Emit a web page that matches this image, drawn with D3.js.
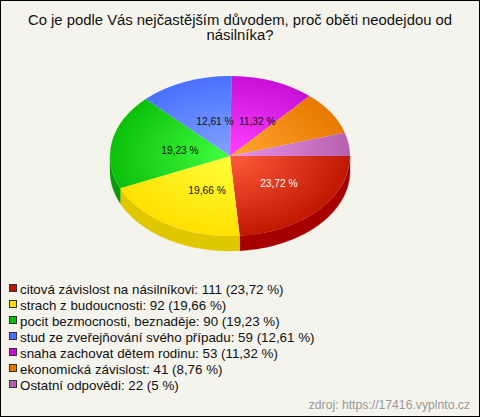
<!DOCTYPE html>
<html><head><meta charset="utf-8">
<script src="https://cdn.jsdelivr.net/npm/d3@7"></script>
<style>html,body{margin:0;padding:0;background:#f4f3ec}svg{display:block}text{font-family:"Liberation Sans",Arial,sans-serif}</style>
</head><body><svg id="c" width="480" height="417"></svg>
<script>
const categories = ["citová závislost na násilníkovi","strach z budoucnosti","pocit bezmocnosti, beznaděje","stud ze zveřejňování svého případu","snaha zachovat dětem rodinu","ekonomická závislost","Ostatní odpovědi"];
const counts = [111,92,90,59,53,41,22];
const percentLabels = ["23,72 %","19,66 %","19,23 %","12,61 %","11,32 %","8,76 %","5 %"];
const innerColors = ["#ff5c3e","#ffff3c","#40ff40","#82a4ff","#ff40ff","#ffa832","#e896e8"];
const edgeColors = ["#c01800","#ffe000","#0cc00c","#4a70ff","#c810d8","#e87800","#b860b0"];
const sideColors = ["#a80000","#e0c800","#0a9a0a","#3a58d0","#a000b0","#c06000","#905090"];
const titleLines = ["Co je podle Vás nejčastějším důvodem, proč oběti neodejdou od","násilníka?"];
const sourceText = "zdroj: https://17416.vyplnto.cz";

const W=480,H=417,cx=230,cy=156,rx=120,ry=80,depth=15;
const svg=d3.select("#c");
svg.append("rect").attr("x",.5).attr("y",.5).attr("width",W-1).attr("height",H-1).attr("fill","#f4f3ec").attr("stroke","#000");
svg.selectAll("text.t").data(titleLines).join("text").attr("class","t")
  .attr("x",240).attr("y",(d,i)=>25+i*15).attr("text-anchor","middle").attr("font-size",14.85).attr("fill","#111").text(d=>d);

const pie=d3.pie().sort(null).startAngle(Math.PI/2).endAngle(Math.PI*2.5);
const arcs=pie(counts);
const defs=svg.append("defs");
arcs.forEach((d,i)=>{
  const g=defs.append("radialGradient").attr("id","g"+i).attr("gradientUnits","userSpaceOnUse")
    .attr("cx",0).attr("cy",0).attr("r",rx);
  g.append("stop").attr("offset",0).attr("stop-color",innerColors[i]);
  g.append("stop").attr("offset",1).attr("stop-color",edgeColors[i]);
});
// side walls: d3 angle a (from north, clockwise) -> point on the ellipse
const pt=(a,dy)=>[cx+rx*Math.sin(a),cy-ry*Math.cos(a)+dy];
const line=d3.line();
arcs.forEach((d,i)=>{
  const a0=Math.max(d.startAngle,Math.PI/2), a1=Math.min(d.endAngle,Math.PI*1.5);
  if(a1<=a0) return;
  const as=d3.range(a0,a1,0.02).concat([a1]);
  const pts=as.map(a=>pt(a,0)).concat(as.slice().reverse().map(a=>pt(a,depth)));
  svg.append("path").attr("d",line(pts)+"Z").attr("fill",sideColors[i]).attr("stroke",sideColors[i]).attr("stroke-width",.3);
});
const face=svg.append("g").attr("transform",`translate(${cx},${cy}) scale(1,${ry/rx})`);
const arc=d3.arc().innerRadius(0).outerRadius(rx);
face.selectAll("path").data(arcs).join("path").attr("d",arc).attr("fill",(d,i)=>`url(#g${i})`);

const total=d3.sum(counts);
arcs.forEach((d,i)=>{
  if(d.value/total<0.1) return;
  const m=(d.startAngle+d.endAngle)/2, f=.48;
  svg.append("text").attr("x",cx+6.5+rx*f*Math.sin(m)).attr("y",cy+1-ry*f*Math.cos(m)+4)
    .attr("text-anchor","middle").attr("font-size",10.2).attr("fill",i===0?"#fff":"#111").text(percentLabels[i]);
});
const leg=svg.append("g").selectAll("g").data(categories).join("g")
  .attr("transform",(d,i)=>`translate(0,${289+i*16})`);
leg.append("rect").attr("x",9.5).attr("y",-4.5).attr("width",7).attr("height",7).attr("fill",(d,i)=>edgeColors[i]).attr("stroke","#333");
leg.append("text").attr("x",20).attr("y",4.5).attr("font-size",13.35).attr("fill","#111")
  .text((d,i)=>`${d}: ${counts[i]} (${percentLabels[i]})`);
svg.append("text").attr("x",470).attr("y",409).attr("text-anchor","end").attr("font-size",12.2).attr("fill","#999").text(sourceText);
</script></body></html>
